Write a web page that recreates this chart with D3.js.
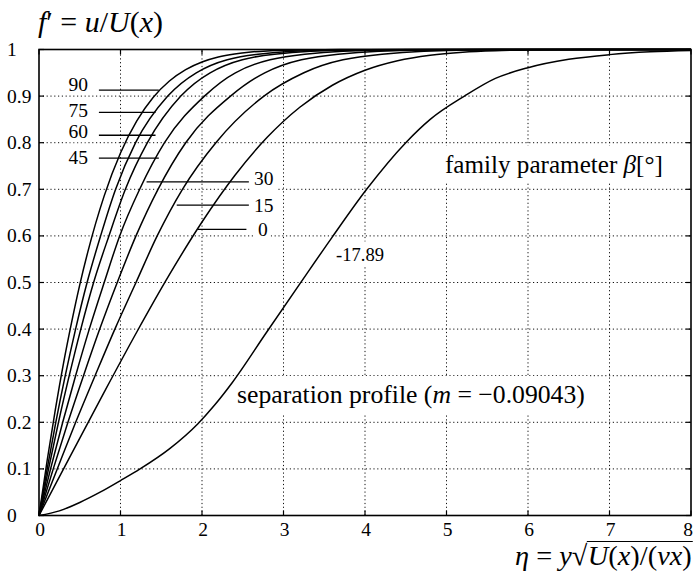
<!DOCTYPE html>
<html lang="en">
<head>
<meta charset="UTF-8">
<title>Falkner-Skan profiles</title>
<script src="https://d3js.org/d3.v7.min.js"></script>
<style>
  body { margin: 0; background: #fff; }
  text { font-family: "Liberation Serif", "DejaVu Serif", serif; fill: #000; }
</style>
</head>
<body>
<script>
// velocity profiles f'(eta) for each wedge angle beta [deg]
var prof90 = [[0,0],[0.1,0.118],[0.2,0.2266],[0.3,0.326],[0.4,0.4144],[0.5,0.495],[0.6,0.5663],[0.8,0.6859],
  [1.0,0.7779],[1.2,0.8467],[1.4,0.8968],[1.6,0.9323],[1.8,0.9568],[2.0,0.9732],[2.2,0.9839],[2.4,0.9905],
  [2.6,0.9946],[2.8,0.997],[3.0,0.9984],[3.5,0.9997],[4.0,1],[8,1]];
var prof75 = [[0,0],[0.1,0.1],[0.206,0.2],[0.322,0.3],[0.449,0.4],[0.59,0.5],[0.756,0.6],[0.94,0.7],
  [1.185,0.8],[1.58,0.9],[1.93,0.95],[2.69,0.99],[3.6,0.999],[4.5,1],[8,1]];
var prof60 = [[0,0],[0.117,0.1],[0.239,0.2],[0.371,0.3],[0.513,0.4],[0.67,0.5],[0.858,0.6],[1.06,0.7],
  [1.33,0.8],[1.74,0.9],[2.1,0.95],[2.89,0.99],[3.83,0.999],[5,1],[8,1]];
var prof45 = [[0,0],[0.142,0.1],[0.291,0.2],[0.449,0.3],[0.617,0.4],[0.8,0.5],[0.99,0.6],[1.235,0.7],
  [1.54,0.8],[2.03,0.9],[2.41,0.95],[3.26,0.99],[4.25,0.999],[5.5,1],[8,1]];
var prof30 = [[0,0],[0.175,0.1],[0.355,0.2],[0.546,0.3],[0.745,0.4],[0.96,0.5],[1.19,0.6],[1.46,0.7],
  [1.8,0.8],[2.35,0.9],[2.77,0.95],[3.67,0.99],[4.73,0.999],[6,1],[8,1]];
var prof15 = [[0,0],[0.224,0.1],[0.45,0.2],[0.688,0.3],[0.931,0.4],[1.19,0.5],[1.45,0.6],[1.76,0.7],
  [2.17,0.8],[2.76,0.9],[3.25,0.95],[4.21,0.99],[5.3,0.999],[6.5,1],[8,1]];
var prof0 = [[0,0],[0.4,0.1328],[0.8,0.2647],[1.2,0.3938],[1.6,0.5168],[2.0,0.6298],[2.4,0.729],[2.8,0.8115],
  [3.2,0.8761],[3.6,0.9233],[4.0,0.9555],[4.4,0.9759],[4.8,0.9878],[5.2,0.9943],[5.6,0.9975],[6.0,0.999],
  [6.5,0.9997],[7,1],[8,1]];
var profSep = [[0,0],[0.25,0.01],[0.5,0.028],[0.75,0.05],[1.0,0.075],[1.24,0.1],[1.6,0.143],[1.95,0.197],
  [2.15,0.236],[2.37,0.285],[2.78,0.39],[3.2,0.497],[3.6,0.598],[4.02,0.7],[4.5,0.8],[4.8,0.85],[5.22,0.9],
  [5.6,0.938],[6.0,0.961],[6.5,0.979],[7.0,0.989],[7.5,0.995],[8.0,0.998]];

var profiles = [prof90, prof75, prof60, prof45, prof30, prof15, prof0, profSep];

var xTicks = [0, 1, 2, 3, 4, 5, 6, 7, 8];
var yTicks = [0, 0.1, 0.2, 0.3, 0.4, 0.5, 0.6, 0.7, 0.8, 0.9, 1];
var yTickLabels = ['0', '0.1', '0.2', '0.3', '0.4', '0.5', '0.6', '0.7', '0.8', '0.9', '1'];

// label leaders: wedge angle text, f' level of the leader, eta span of the leader
var leftLabels = [
  {text: '90', level: 0.913, from: 0.735, to: 1.47, dy: 1},
  {text: '75', level: 0.865, from: 0.735, to: 1.43, dy: 5},
  {text: '60', level: 0.816, from: 0.735, to: 1.43, dy: 3},
  {text: '45', level: 0.767, from: 0.735, to: 1.47, dy: 6}
];
var rightLabels = [
  {text: '30', level: 0.716, from: 1.32, to: 2.575, dy: 3},
  {text: '15', level: 0.666, from: 1.69, to: 2.575, dy: 6.5},
  {text: '0', level: 0.614, from: 1.95, to: 2.545, dy: 6.5}
];

var W = 695, H = 578;
var x = d3.scaleLinear().domain([0, 8]).range([39, 691]);
var y = d3.scaleLinear().domain([0, 1]).range([515.5, 49.5]);

var svg = d3.select('body').append('svg')
  .attr('width', W).attr('height', H)
  .attr('font-family', '"Liberation Serif", "DejaVu Serif", serif')
  .style('background', '#fff');

// dotted grid
var grid = svg.append('g');
grid.selectAll('line.gx')
  .data(xTicks.slice(1, -1))
  .enter().append('line')
  .attr('x1', function(d) { return x(d); })
  .attr('x2', function(d) { return x(d); })
  .attr('y1', y(0)).attr('y2', y(1));
grid.selectAll('line.gy')
  .data(yTicks.slice(1, -1))
  .enter().append('line')
  .attr('x1', x(0)).attr('x2', x(8))
  .attr('y1', function(d) { return y(d); })
  .attr('y2', function(d) { return y(d); });
grid.selectAll('line')
  .attr('stroke', '#111')
  .attr('stroke-width', 1)
  .attr('stroke-dasharray', '1.2,2.6');

// white boxes behind the annotations only hide the grid
var bgLayer = svg.append('g');

// small inward ticks on all sides
var ticks = svg.append('g').attr('stroke', '#000').attr('stroke-width', 1.2);
yTicks.forEach(function(d) {
  ticks.append('line').attr('x1', x(0)).attr('x2', x(0) + 5).attr('y1', y(d)).attr('y2', y(d));
  ticks.append('line').attr('x1', x(8)).attr('x2', x(8) - 5).attr('y1', y(d)).attr('y2', y(d));
});
xTicks.forEach(function(d) {
  ticks.append('line').attr('x1', x(d)).attr('x2', x(d)).attr('y1', y(0)).attr('y2', y(0) - 5);
  ticks.append('line').attr('x1', x(d)).attr('x2', x(d)).attr('y1', y(1)).attr('y2', y(1) + 5);
});

// profiles
var line = d3.line()
  .x(function(d) { return x(d[0]); })
  .y(function(d) { return y(d[1]); })
  .curve(d3.curveMonotoneX);

svg.append('g').selectAll('path')
  .data(profiles)
  .enter().append('path')
  .attr('d', line)
  .attr('fill', 'none')
  .attr('stroke', '#000')
  .attr('stroke-width', 1.5);

// tick labels
svg.append('g').selectAll('text')
  .data(yTicks)
  .enter().append('text')
  .attr('x', 7)
  .attr('y', function(d) { return y(d) + 6.5; })
  .attr('font-size', '19.5px')
  .text(function(d, i) { return yTickLabels[i]; });

svg.append('g').selectAll('text')
  .data(xTicks)
  .enter().append('text')
  .attr('x', function(d) { return Math.min(x(d) + 1, 688); })
  .attr('y', 536)
  .attr('text-anchor', 'middle')
  .attr('font-size', '19.5px')
  .text(function(d) { return d; });

// fit a text to a given pixel width by scaling its font size
function fitWidth(t, target) {
  var w = t.node().getBBox().width;
  var fs = parseFloat(t.attr('font-size'));
  t.attr('font-size', (fs * target / w) + 'px');
}

function addParts(t, parts) {
  parts.forEach(function(p) {
    t.append('tspan').text(p[0]).attr('font-style', p[1] ? 'italic' : 'normal');
  });
}

var annot = svg.append('g');
function boxedText(px, py, parts, size, anchor, pad, width) {
  var t = annot.append('text')
    .attr('x', px).attr('y', py)
    .attr('font-size', size + 'px')
    .attr('text-anchor', anchor || 'start');
  addParts(t, parts);
  if (width) fitWidth(t, width);
  var b = t.node().getBBox();
  bgLayer.append('rect').attr('fill', '#fff')
    .attr('x', b.x - pad).attr('y', b.y - pad)
    .attr('width', b.width + 2 * pad).attr('height', b.height + 2 * pad);
  return t;
}

// leader lines
leftLabels.concat(rightLabels).forEach(function(d) {
  annot.append('line')
    .attr('x1', x(d.from)).attr('x2', x(d.to))
    .attr('y1', y(d.level)).attr('y2', y(d.level))
    .attr('stroke', '#000').attr('stroke-width', 1.3);
});
leftLabels.forEach(function(d) {
  boxedText(88, y(d.level) + d.dy, [[d.text, false]], 19.5, 'end', 0);
});
rightLabels.forEach(function(d) {
  boxedText(d.text == '0' ? 258 : 254, y(d.level) + d.dy, [[d.text, false]], 19.5, 'start', 3);
});

boxedText(336, 260.5, [['-17.89', false]], 19.5, 'start', 2, 48);

boxedText(445, 173, [['family parameter ', false], ['\u03b2', true], ['[\u00b0]', false]], 23, 'start', 5, 218);
boxedText(237, 403, [['separation profile (', false], ['m', true], [' = \u22120.09043)', false]], 23, 'start', 4, 348);

// title of the y axis
var ttl = svg.append('text').attr('x', 38).attr('y', 32).attr('font-size', '21px');
addParts(ttl, [['f', true], ['\u2032 = ', false], ['u', true], ['/', false], ['U', true], ['(', false], ['x', true], [')', false]]);
fitWidth(ttl, 125);

// x axis label with square root, scaled to the span it has in the figure
function xLabel(size) {
  var g = svg.append('g');
  var t1 = g.append('text').attr('x', 515).attr('y', 565).attr('font-size', size + 'px');
  addParts(t1, [['\u03b7', true], [' = ', false], ['y', true], ['\u221a', false]]);
  var w1 = t1.node().getBBox().width;
  var t2 = g.append('text').attr('x', 515 + w1).attr('y', 565).attr('font-size', size + 'px');
  addParts(t2, [['U', true], ['(', false], ['x', true], [')/(', false], ['\u03bd', true], ['x', true], [')', false]]);
  var b2 = t2.node().getBBox();
  g.append('line')
    .attr('x1', 515 + w1 - 1).attr('x2', b2.x + b2.width + 1)
    .attr('y1', b2.y + 1.5).attr('y2', b2.y + 1.5)
    .attr('stroke', '#000').attr('stroke-width', 1.1);
  return {g: g, width: b2.x + b2.width - 515};
}
var probe = xLabel(21);
probe.g.remove();
xLabel(21 * 177 / probe.width);

// frame
svg.append('rect')
  .attr('x', x(0)).attr('y', y(1))
  .attr('width', x(8) - x(0)).attr('height', y(0) - y(1))
  .attr('fill', 'none')
  .attr('stroke', '#000')
  .attr('stroke-width', 1.6);
</script>
</body>
</html>
